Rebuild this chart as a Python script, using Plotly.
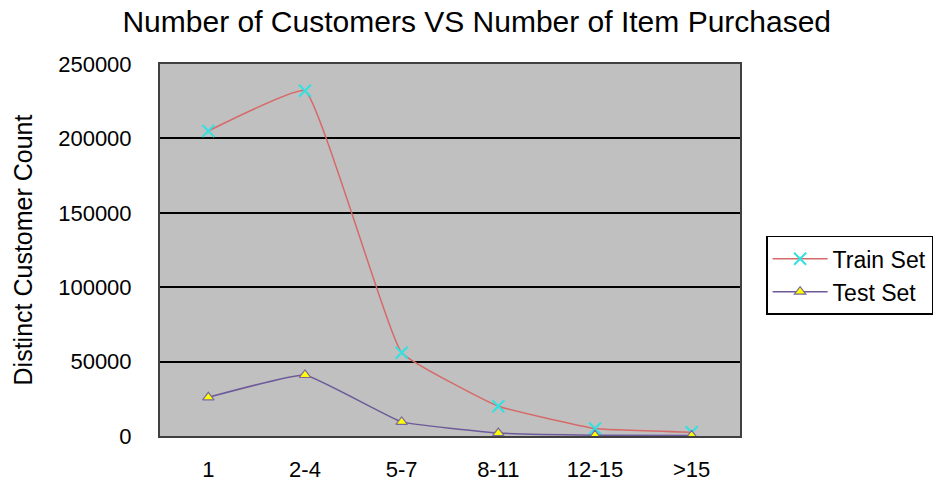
import plotly.graph_objects as go

# Purchase-count buckets and distinct customer counts per data set
categories = ["1", "2-4", "5-7", "8-11", "12-15", ">15"]
train_counts = [205000, 232000, 56000, 20000, 5000, 2500]
test_counts = [26000, 41000, 9500, 2000, 500, 300]
y_ticks = [0, 50000, 100000, 150000, 200000, 250000]

fig = go.Figure()

fig.add_trace(go.Scatter(
    x=categories, y=train_counts, name="Train Set",
    mode="lines+markers",
    line=dict(color="#D66A6A", width=1.5, shape="spline", smoothing=0.3),
    marker=dict(symbol="x-thin", size=12, color="#33E0E0",
                line=dict(color="#33E0E0", width=2)),
))

fig.add_trace(go.Scatter(
    x=categories, y=test_counts, name="Test Set",
    mode="lines+markers",
    line=dict(color="#6E5A9A", width=1.5, shape="spline", smoothing=0.3),
    marker=dict(symbol="triangle-up", size=10, color="#FFFF00",
                line=dict(color="#7A6A9E", width=1.2)),
))

fig.update_layout(
    width=933, height=488,
    margin=dict(l=160, r=193, t=64, b=52, autoexpand=False),
    paper_bgcolor="white",
    plot_bgcolor="#C0C0C0",
    font=dict(family="Liberation Sans, Arial, sans-serif", size=22, color="black"),
    title=dict(text="Number of Customers VS Number of Item Purchased",
               x=0.511, xanchor="center", y=0.955, yanchor="middle",
               font=dict(size=30)),
    showlegend=True,
    legend=dict(x=1.045, y=0.538, xanchor="left", yanchor="top",
                bordercolor="black", borderwidth=1.5, bgcolor="white",
                font=dict(size=23), itemwidth=55),
)

fig.update_xaxes(
    type="category", range=[-0.5, 5.5],
    showgrid=False, zeroline=False,
    showline=True, linecolor="#404040", linewidth=2, mirror=True,
    ticks="", ticklabelstandoff=13, automargin=False,
    tickfont=dict(size=22),
)

fig.update_yaxes(
    range=[0, 250000], tickvals=y_ticks,
    ticktext=[str(v) for v in y_ticks],
    showgrid=True, gridcolor="black", gridwidth=2,
    zeroline=False,
    showline=True, linecolor="#404040", linewidth=2, mirror=True,
    ticks="", ticklabelstandoff=22, automargin=False,
    tickfont=dict(size=22),
    title=dict(text="Distinct Customer Count", font=dict(size=25), standoff=18),
)

fig.write_html("out.html")
